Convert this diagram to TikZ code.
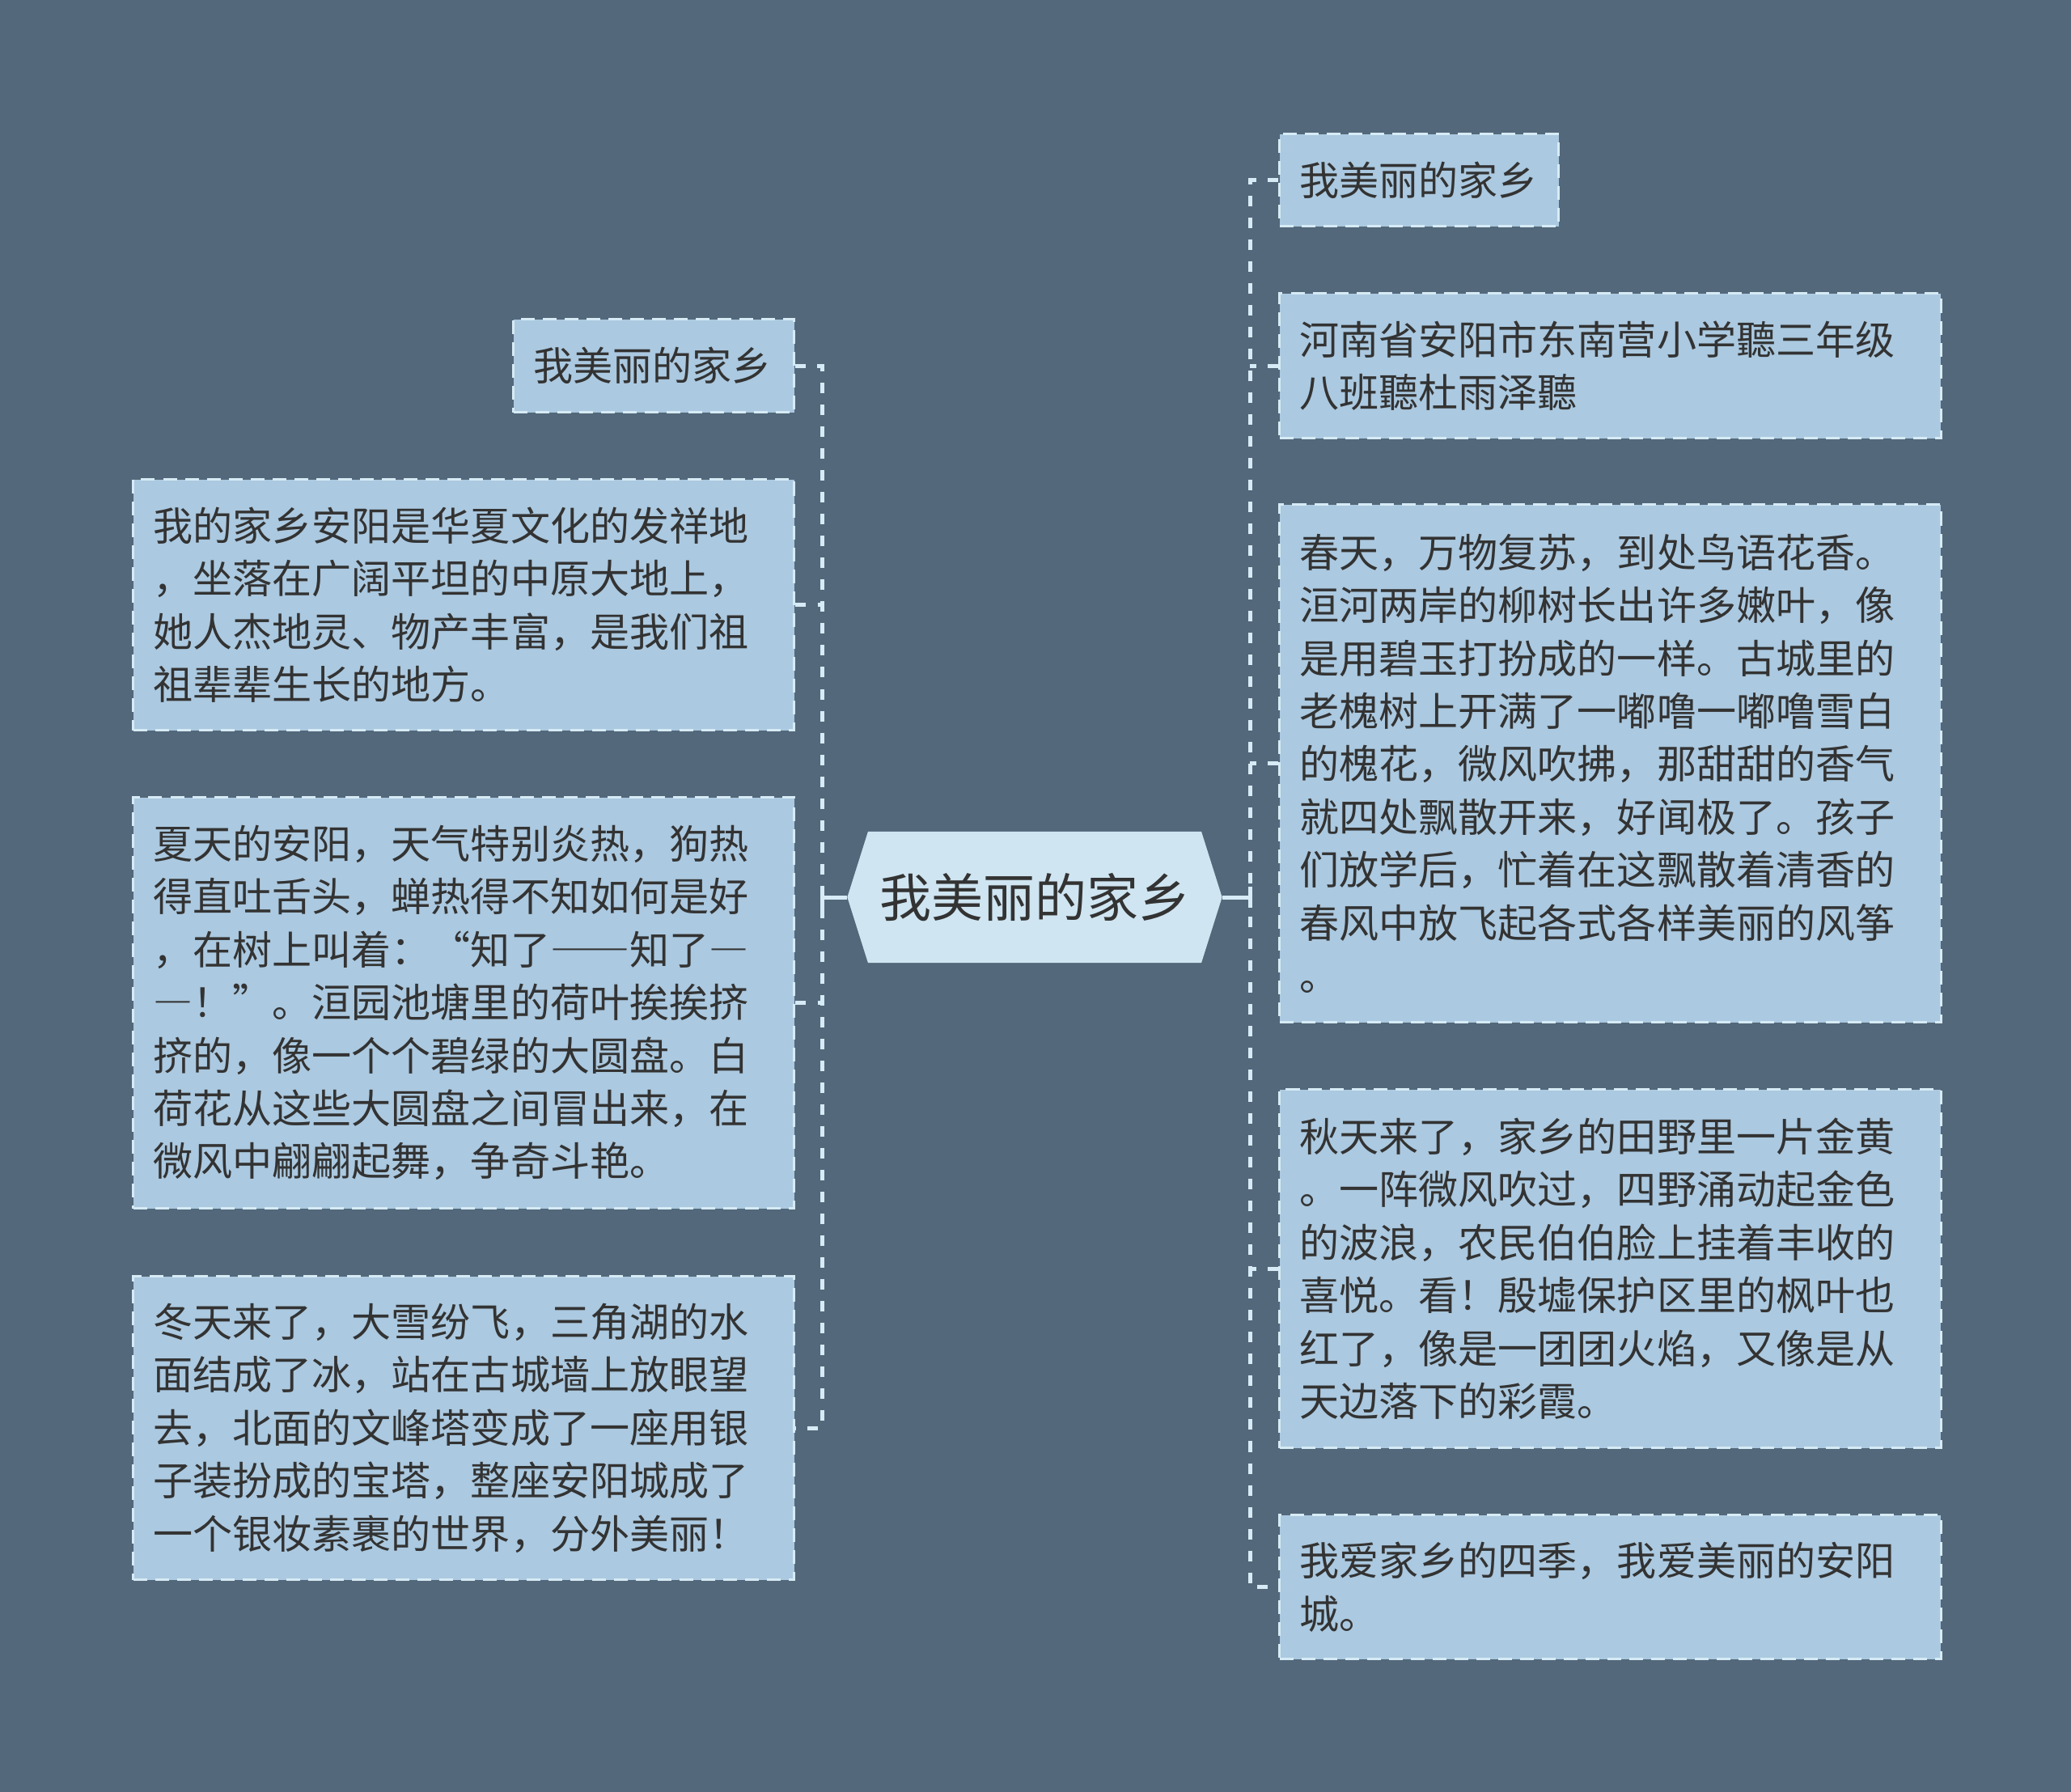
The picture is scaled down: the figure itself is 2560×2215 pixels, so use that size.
\documentclass[tikz,border=0pt]{standalone}
\usepackage{fontspec}
\setmainfont{Noto Sans CJK SC}
\usepackage{xcolor}
\usetikzlibrary{shapes.symbols}

\definecolor{bgslate}{HTML}{53687A}
\definecolor{leaffill}{HTML}{ABC9E0}
\definecolor{hubfill}{HTML}{CFE5F1}
\definecolor{edgeline}{HTML}{D6EBF5}
\definecolor{inktext}{HTML}{333333}
\newcommand{\wdash}[1]{{\addfontfeatures{RawFeature=+fwid}#1}}

\begin{document}
\begin{tikzpicture}[x=0.01cm, y=-0.01cm,
  leaf/.style={draw=edgeline, fill=leaffill, line width=0.03cm,
    dash pattern=on 0.17cm off 0.1cm, text=inktext,
    font=\fontsize{13.95pt}{18.6pt}\selectfont, align=left,
    inner xsep=0.25cm, inner ysep=0pt, anchor=north west, text width=7.67cm},
  hub/.style={signal, signal to=west and east, signal pointer angle=145,
    fill=hubfill, text=inktext, font=\fontsize{18.2pt}{22pt}\selectfont,
    minimum width=4.63cm, minimum height=1.62cm, inner sep=0pt},
  link/.style={draw=edgeline, line width=0.05cm, dash pattern=on 0.13cm off 0.14cm},
  stub/.style={draw=edgeline, line width=0.05cm}]
  % Background
  \fill[bgslate] (0,0) rectangle (2560,2215);
  \useasboundingbox (0,0) rectangle (2560,2215);

  % Root
  \node[hub] (hub) at (1279,1109) {我美丽的家乡};

  % Left branch
  \node[leaf, text width=2.97cm, minimum height=1.15cm] (l1) at (633,393) {我美丽的家乡};
  \node[leaf, minimum height=3.10cm] (l2) at (163,591) {我的家乡安阳是华夏文化的发祥地\\，坐落在广阔平坦的中原大地上，\\她人杰地灵、物产丰富，是我们祖\\祖辈辈生长的地方。};
  \node[leaf, minimum height=5.08cm] (l3) at (163,984) {夏天的安阳，天气特别炎热，狗热\\得直吐舌头，蝉热得不知如何是好\\，在树上叫着：“知了\wdash{——}知了\wdash{—}\\\wdash{—}！”。洹园池塘里的荷叶挨挨挤\\挤的，像一个个碧绿的大圆盘。白\\荷花从这些大圆盘之间冒出来，在\\微风中翩翩起舞，争奇斗艳。};
  \node[leaf, minimum height=3.75cm] (l4) at (163,1576) {冬天来了，大雪纷飞，三角湖的水\\面结成了冰，站在古城墙上放眼望\\去，北面的文峰塔变成了一座用银\\子装扮成的宝塔，整座安阳城成了\\一个银妆素裹的世界，分外美丽！};

  % Right branch
  \node[leaf, text width=2.95cm, minimum height=1.14cm] (r1) at (1580,164) {我美丽的家乡};
  \node[leaf, minimum height=1.79cm] (r2) at (1580,361) {河南省安阳市东南营小学聽三年级\\八班聽杜雨泽聽};
  \node[leaf, minimum height=6.40cm] (r3) at (1580,622) {春天，万物复苏，到处鸟语花香。\\洹河两岸的柳树长出许多嫩叶，像\\是用碧玉打扮成的一样。古城里的\\老槐树上开满了一嘟噜一嘟噜雪白\\的槐花，微风吹拂，那甜甜的香气\\就四处飘散开来，好闻极了。孩子\\们放学后，忙着在这飘散着清香的\\春风中放飞起各式各样美丽的风筝\\。};
  \node[leaf, minimum height=4.43cm] (r4) at (1580,1345) {秋天来了，家乡的田野里一片金黄\\。一阵微风吹过，四野涌动起金色\\的波浪，农民伯伯脸上挂着丰收的\\喜悦。看！殷墟保护区里的枫叶也\\红了，像是一团团火焰，又像是从\\天边落下的彩霞。};
  \node[leaf, minimum height=1.78cm] (r5) at (1580,1871) {我爱家乡的四季，我爱美丽的安阳\\城。};

  % Connectors
  \coordinate (ltrunk) at (1016,0);
  \coordinate (rtrunk) at (1545,0);
  \draw[link] (l1.east) -- (l1.east -| ltrunk) -- (l4.east -| ltrunk) -- (l4.east);
  \draw[link] (l2.east) -- (l2.east -| ltrunk);
  \draw[link] (l3.east) -- (l3.east -| ltrunk);
  \draw[link] (r1.west) -- (r1.west -| rtrunk) -- (r5.west -| rtrunk) -- (r5.west);
  \foreach \n in {r2,r3,r4}
    \draw[link] (\n.west) -- (\n.west -| rtrunk);
  \draw[stub] (hub.west) -- (hub.west -| ltrunk);
  \draw[stub] (hub.west -| ltrunk) ++(0,-13) -- ++(0,26);
  \draw[stub] (hub.east) -- (hub.east -| rtrunk);
  \draw[stub] (hub.east -| rtrunk) ++(0,-13) -- ++(0,26);
\end{tikzpicture}
\end{document}
